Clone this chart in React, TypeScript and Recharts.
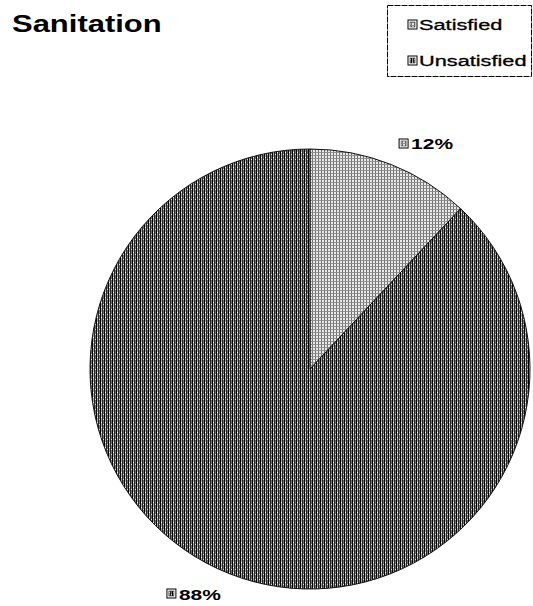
import { PieChart, Pie, Cell, Legend } from 'recharts'

const categories = ['Satisfied', 'Unsatisfied']
const shares = [12, 88]
const patternIds = ['satisfiedHatch', 'unsatisfiedHatch']

const data = categories.map((name, i) => ({ name, value: shares[i] }))

const RADIAN = Math.PI / 180
const FONT = '"Liberation Sans", Arial, sans-serif'

const wrapStyle = { position: 'absolute' as const, left: 0, top: 0, width: 533, height: 606, background: '#fff' }
const titleStyle = {
  position: 'absolute' as const, left: 12, top: 12, margin: 0,
  fontFamily: FONT, fontSize: 24, fontWeight: 700, lineHeight: '24px',
  color: '#000', transform: 'scaleX(1.29)', transformOrigin: 'left top',
}
const legendWrap = { top: 5, left: 387, width: 145, height: 72 }

// Small boxed swatch, the same in the legend and beside each percentage
function KeyIcon({ x, y, idx }: { x: number; y: number; idx: number }) {
  return (
    <g>
      <rect x={x} y={y} width={9} height={9} fill="#fff" stroke="#000" strokeWidth={1} />
      <rect x={x + 2} y={y + 2} width={5} height={5} fill={`url(#${patternIds[idx]})`} stroke="#333" strokeWidth={0.6} />
    </g>
  )
}

function renderLegend() {
  return (
    <svg width={145} height={72} style={{ display: 'block' }}>
      <rect x={0.5} y={0.5} width={144} height={71} fill="#fff" stroke="#000" strokeWidth={1} strokeDasharray="6 1" />
      {categories.map((name, i) => {
        const base = i === 0 ? 25 : 61
        return (
          <g key={name}>
            <KeyIcon x={21} y={base - 10} idx={i} />
            <text transform={`translate(32 ${base}) scale(1.45 1)`} fontFamily={FONT}
              fontSize={15} fill="#000" stroke="#000" strokeWidth={0.3}>{name}</text>
          </g>
        )
      })}
    </svg>
  )
}

function renderLabel(p: any) {
  const r = p.outerRadius + 22
  const cos = Math.cos(-p.midAngle * RADIAN)
  const x = p.cx + r * cos
  const y = p.cy + r * Math.sin(-p.midAngle * RADIAN)
  // labels on the left side are pushed left by their own width
  const startX = cos >= 0 ? x : x - 54
  return (
    <g key={`lbl-${p.index}`}>
      <KeyIcon x={startX} y={y - 5} idx={p.index} />
      <text transform={`translate(${startX + 12} ${y + 5.5}) scale(1.4 1)`} fontFamily={FONT}
        fontSize={15} fontWeight={700} fill="#000">{`${p.value}%`}</text>
    </g>
  )
}

export default function App() {
  return (
    <div style={wrapStyle}>
      <PieChart width={533} height={606}>
        <defs>
          <pattern id="satisfiedHatch" width={3} height={3} patternUnits="userSpaceOnUse">
            <rect width={3} height={3} fill="#ececec" />
            <rect x={0} y={0} width={1} height={3} fill="#6e6e6e" />
            <rect x={0} y={2} width={3} height={1} fill="#8e8e8e" />
          </pattern>
          <pattern id="unsatisfiedHatch" width={4} height={5} patternUnits="userSpaceOnUse">
            <rect width={4} height={5} fill="#262626" />
            <rect x={0} y={0} width={1} height={5} fill="#000" />
            <rect x={1} y={0} width={1} height={5} fill="#a4a4a4" />
            <rect x={3} y={0} width={1} height={5} fill="#707070" />
            <rect x={1} y={2} width={1} height={1} fill="#fff" />
            <rect x={3} y={4} width={1} height={1} fill="#e6e6e6" />
          </pattern>
        </defs>
        <Pie data={data} dataKey="value" nameKey="name" cx={305} cy={364} outerRadius={220}
          startAngle={90} endAngle={-270} stroke="#111" strokeWidth={1}
          label={renderLabel} labelLine={false} isAnimationActive={false}>
          {data.map((d, i) => <Cell key={d.name} fill={`url(#${patternIds[i]})`} />)}
        </Pie>
        <Legend content={renderLegend} wrapperStyle={legendWrap} />
      </PieChart>
      <div style={titleStyle}>Sanitation</div>
    </div>
  )
}
